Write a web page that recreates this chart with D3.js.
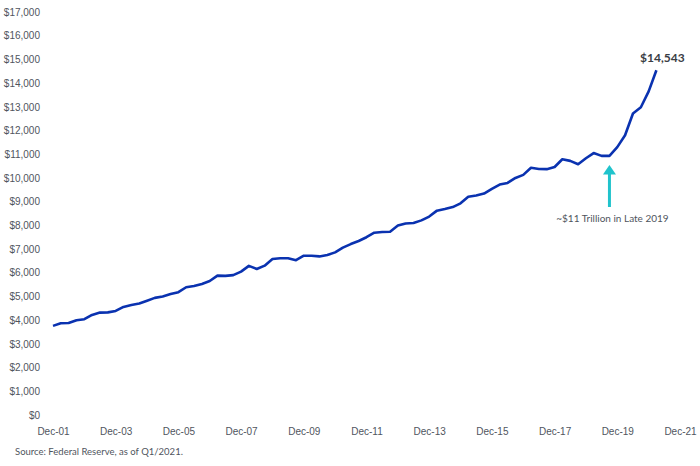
<!DOCTYPE html>
<html>
<head>
<meta charset="utf-8">
<script src="https://cdn.jsdelivr.net/npm/d3@7"></script>
<style>
  body { margin: 0; background: #fff; }
  svg { display: block; font-family: Lato, "Open Sans", sans-serif; }
  .axis text { fill: #50555e; font-size: 10px; }
</style>
</head>
<body>
<svg id="chart" width="700" height="466"></svg>
<script>
// Quarterly values, Q4 2001 .. Q1 2021 (billions of $)
const values = [
  3760, 3870, 3880, 4000, 4040, 4220, 4320, 4330, 4390, 4560,
  4640, 4700, 4820, 4940, 5000, 5100, 5180, 5390, 5440, 5530,
  5650, 5880, 5870, 5900, 6050, 6290, 6160, 6300, 6580, 6610,
  6610, 6530, 6720, 6720, 6690, 6750, 6860, 7060, 7210, 7340,
  7500, 7690, 7720, 7730, 7990, 8080, 8100, 8210, 8370, 8620,
  8690, 8770, 8930, 9210, 9260, 9340, 9540, 9720, 9790, 10000,
  10130, 10430, 10380, 10370, 10460, 10790, 10720, 10580, 10830, 11050,
  10930, 10930, 11300, 11800, 12720, 12980, 13650, 14543
];
const xTickYears = [2001, 2003, 2005, 2007, 2009, 2011, 2013, 2015, 2017, 2019, 2021];
const yTicks = d3.range(0, 17001, 1000);
const endLabel = "$14,543";
const noteText = "~$11 Trillion in Late 2019";
const noteIndex = 71; // late 2019 point the arrow points at
const sourceText = "Source: Federal Reserve, as of Q1/2021.";

const dates = values.map((v, i) => new Date(2001, 11 + i * 3, 1));

const svg = d3.select("#chart");

const x = d3.scaleTime()
  .domain([new Date(2001, 11, 1), new Date(2021, 11, 1)])
  .range([53, 680]);
const y = d3.scaleLinear().domain([0, 17000]).range([415, 12]);

// y axis
svg.append("g")
  .attr("class", "axis")
  .attr("transform", "translate(43,0)")
  .call(d3.axisLeft(y).tickValues(yTicks).tickSize(0).tickPadding(3)
    .tickFormat(d => "$" + d3.format(",")(d)))
  .call(g => g.select(".domain").remove());

// x axis
svg.append("g")
  .attr("class", "axis")
  .attr("transform", "translate(0,425)")
  .call(d3.axisBottom(x).tickValues(xTickYears.map(yr => new Date(yr, 11, 1)))
    .tickSize(0).tickPadding(3)
    .tickFormat(d => "Dec-" + d3.timeFormat("%y")(d)))
  .call(g => g.select(".domain").remove());

// line
const line = d3.line()
  .x((d, i) => x(dates[i]))
  .y(d => y(d));

svg.append("path")
  .datum(values)
  .attr("fill", "none")
  .attr("stroke", "#0a32b0")
  .attr("stroke-width", 2.6)
  .attr("stroke-linejoin", "round")
  .attr("d", line);

// end label
const last = values.length - 1;
svg.append("text")
  .attr("x", x(dates[last]) + 6)
  .attr("y", y(values[last]) - 8)
  .attr("text-anchor", "middle")
  .attr("font-size", 12)
  .attr("font-weight", "bold")
  .attr("fill", "#3a3d44")
  .text(endLabel);

// arrow annotation
const ax = x(dates[noteIndex]);
const tipY = y(values[noteIndex]) + 9;
svg.append("line")
  .attr("x1", ax).attr("x2", ax)
  .attr("y1", tipY + 8).attr("y2", 207)
  .attr("stroke", "#20c3cc")
  .attr("stroke-width", 3);
svg.append("path")
  .attr("d", `M${ax},${tipY} L${ax - 6.5},${tipY + 9.5} L${ax + 6.5},${tipY + 9.5} Z`)
  .attr("fill", "#20c3cc");

svg.append("text")
  .attr("x", ax + 3)
  .attr("y", 222)
  .attr("text-anchor", "middle")
  .attr("font-size", 10)
  .attr("fill", "#50555e")
  .text(noteText);

// source
svg.append("text")
  .attr("x", 15)
  .attr("y", 455)
  .attr("font-size", 9.5)
  .attr("fill", "#50555e")
  .text(sourceText);
</script>
</body>
</html>
